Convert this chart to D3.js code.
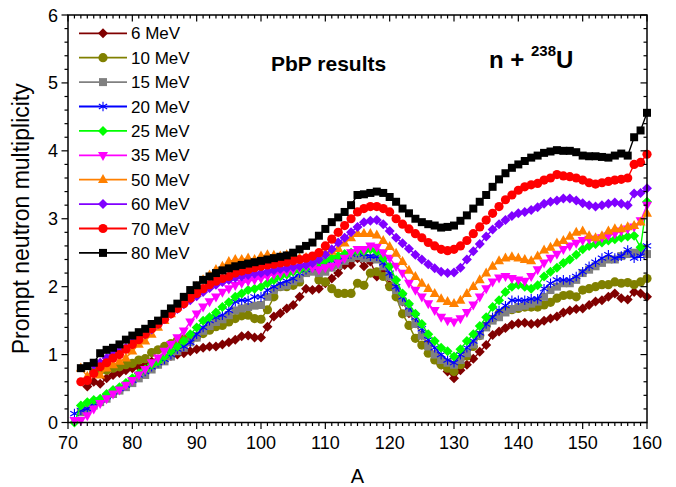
<!DOCTYPE html>
<html>
<head>
<meta charset="utf-8">
<script src="https://cdn.jsdelivr.net/npm/d3@7/dist/d3.min.js"></script>
<style>
  body { margin: 0; background: #fff; }
  svg { display: block; }
  text { font-family: Arial, "Liberation Sans", sans-serif; fill: #000; }
</style>
</head>
<body>
<svg id="chart" width="676" height="487"></svg>
<script>
// Prompt neutron multiplicity vs fragment mass number A, n + 238U, PbP model

const seriesNames = ["6 MeV", "10 MeV", "15 MeV", "20 MeV", "25 MeV", "35 MeV", "50 MeV", "60 MeV", "70 MeV", "80 MeV"];
// first mass number of each series
const firstA = [73, 74, 72, 71, 71, 71, 72, 74, 72, 72];

const nu6 = [0.53,0.60,0.57,0.65,0.70,0.73,0.77,0.80,0.82,0.85,0.90,0.92,0.95,0.98,1.00,1.02,1.05,1.08,1.10,1.12,1.12,1.15,1.18,1.22,1.27,1.28,1.25,1.25,
  1.41,1.56,1.61,1.68,1.73,1.85,1.97,1.95,1.97,2.05,2.12,2.20,2.32,2.32,2.42,2.30,2.37,2.15,2.25,2.02,1.97,1.78,1.61,1.46,1.29,1.14,1.00,0.85,0.75,0.65,
  0.77,0.85,0.94,1.04,1.14,1.29,1.34,1.39,1.44,1.46,1.47,1.45,1.46,1.50,1.53,1.56,1.62,1.65,1.67,1.68,1.73,1.78,1.80,1.85,1.90,1.83,1.81,1.92,1.90,1.85];

const nu10 = [0.75,0.77,0.77,0.80,0.82,0.85,0.87,0.92,0.94,1.03,1.07,1.12,1.16,1.21,1.23,1.21,1.26,1.31,1.36,1.41,1.43,1.48,1.53,1.57,1.58,1.53,1.52,
  1.66,1.85,2.00,2.00,2.02,2.07,2.24,2.27,2.10,2.07,1.97,1.90,1.90,1.90,2.05,2.02,2.20,2.22,2.15,2.00,1.85,1.60,1.43,1.24,1.14,1.02,0.92,0.85,0.80,0.75,
  0.85,0.98,1.12,1.28,1.42,1.52,1.60,1.64,1.66,1.68,1.70,1.70,1.70,1.73,1.77,1.83,1.87,1.88,1.85,1.95,1.97,2.00,2.03,2.03,2.07,2.05,2.06,2.03,2.07,2.12];

const nu15 = [0.15,0.20,0.25,0.30,0.35,0.42,0.47,0.52,0.58,0.65,0.70,0.78,0.85,0.90,0.97,1.05,1.10,1.18,1.25,1.35,1.42,1.48,1.52,1.58,1.65,1.68,1.70,1.72,1.73,
  1.85,1.95,2.00,2.02,2.08,2.12,2.20,2.22,2.20,2.22,2.28,2.32,2.38,2.42,2.45,2.42,2.42,2.40,2.30,2.15,1.95,1.78,1.62,1.45,1.28,1.12,1.00,0.92,0.88,0.85,
  0.92,1.02,1.15,1.28,1.40,1.50,1.55,1.62,1.67,1.70,1.72,1.75,1.78,1.85,1.95,2.00,2.05,2.05,2.10,2.20,2.25,2.30,2.35,2.40,2.40,2.45,2.48,2.50,2.52,2.48];

const nu20 = [0.13,0.18,0.20,0.28,0.33,0.38,0.45,0.50,0.55,0.62,0.70,0.75,0.82,0.88,0.93,1.00,1.08,1.12,1.18,1.30,1.40,1.50,1.55,1.58,1.65,1.78,1.80,1.80,1.85,1.85,
  1.95,2.00,2.05,2.08,2.12,2.20,2.25,2.28,2.30,2.32,2.38,2.38,2.45,2.48,2.50,2.48,2.45,2.45,2.35,2.20,2.00,1.85,1.70,1.55,1.38,1.22,1.10,1.00,0.92,0.88,
  1.00,1.10,1.20,1.32,1.45,1.55,1.65,1.72,1.80,1.80,1.80,1.82,1.82,1.97,2.05,2.10,2.10,2.10,2.15,2.22,2.30,2.36,2.42,2.47,2.42,2.45,2.54,2.42,2.45,2.60];

const nu25 = [0.00,0.25,0.30,0.33,0.35,0.42,0.48,0.52,0.58,0.65,0.72,0.78,0.85,0.90,0.97,1.05,1.12,1.20,1.30,1.40,1.50,1.55,1.62,1.70,1.77,1.85,1.90,1.95,1.97,2.00,
  2.05,2.10,2.15,2.18,2.22,2.25,2.28,2.30,2.35,2.38,2.42,2.45,2.48,2.50,2.52,2.52,2.55,2.52,2.42,2.30,2.10,1.90,1.75,1.60,1.45,1.30,1.20,1.10,1.05,0.97,
  1.08,1.20,1.30,1.42,1.55,1.70,1.80,1.92,2.00,2.03,2.00,1.97,2.02,2.15,2.22,2.28,2.35,2.40,2.47,2.55,2.60,2.63,2.65,2.68,2.70,2.72,2.74,2.75,2.58,3.25];

const nu35 = [0.03,0.03,0.10,0.20,0.28,0.35,0.42,0.48,0.55,0.62,0.70,0.78,0.88,0.95,1.05,1.15,1.25,1.35,1.48,1.60,1.70,1.78,1.85,1.92,1.97,2.02,2.05,2.08,2.10,2.12,
  2.15,2.18,2.20,2.22,2.25,2.28,2.30,2.28,2.25,2.28,2.30,2.35,2.42,2.50,2.55,2.55,2.60,2.58,2.50,2.42,2.30,2.20,2.05,1.95,1.85,1.75,1.65,1.55,1.50,1.48,
  1.53,1.62,1.73,1.85,1.97,2.07,2.13,2.15,2.12,2.10,2.08,2.15,2.25,2.35,2.42,2.48,2.55,2.60,2.64,2.68,2.70,2.70,2.72,2.75,2.78,2.82,2.85,2.88,2.97,3.20];

const nu50 = [0.80,0.68,0.72,0.70,0.80,0.85,0.90,0.95,1.05,1.15,1.20,1.30,1.40,1.50,1.60,1.70,1.80,1.90,2.00,2.10,2.17,2.25,2.30,2.37,2.40,2.40,2.42,2.40,2.45,
  2.47,2.46,2.45,2.47,2.45,2.42,2.43,2.42,2.45,2.50,2.52,2.56,2.64,2.72,2.78,2.78,2.78,2.76,2.68,2.59,2.49,2.37,2.24,2.15,2.05,1.97,1.90,1.82,1.78,1.75,
  1.80,1.90,2.00,2.10,2.20,2.30,2.38,2.42,2.44,2.42,2.40,2.38,2.45,2.54,2.58,2.64,2.68,2.74,2.80,2.82,2.75,2.72,2.75,2.82,2.85,2.85,2.88,2.90,2.95,3.08];

const nu60 = [0.85,0.88,0.95,1.00,1.05,1.10,1.18,1.25,1.30,1.37,1.45,1.52,1.60,1.67,1.74,1.80,1.86,1.92,1.98,2.03,2.07,2.10,2.13,2.15,2.17,2.19,2.20,
  2.22,2.24,2.26,2.27,2.29,2.30,2.32,2.35,2.40,2.47,2.55,2.65,2.72,2.80,2.88,2.95,2.97,2.98,2.92,2.82,2.72,2.64,2.56,2.47,2.40,2.33,2.27,2.22,2.20,2.21,
  2.28,2.40,2.52,2.63,2.74,2.84,2.92,2.98,3.04,3.08,3.10,3.13,3.17,3.22,3.25,3.27,3.30,3.30,3.27,3.23,3.20,3.18,3.20,3.22,3.24,3.22,3.20,3.37,3.38,3.45];

const nu70 = [0.60,0.62,0.72,0.82,0.88,0.95,1.00,1.08,1.15,1.22,1.30,1.38,1.45,1.52,1.60,1.68,1.75,1.83,1.90,1.97,2.03,2.08,2.12,2.15,2.20,2.23,2.25,2.28,2.30,
  2.32,2.33,2.35,2.36,2.38,2.40,2.42,2.45,2.50,2.60,2.70,2.80,2.90,3.00,3.10,3.15,3.18,3.18,3.15,3.10,3.00,2.92,2.85,2.78,2.72,2.65,2.60,2.55,2.53,2.55,
  2.60,2.68,2.78,2.88,2.98,3.08,3.18,3.28,3.35,3.42,3.47,3.50,3.52,3.57,3.60,3.65,3.63,3.62,3.60,3.57,3.53,3.51,3.53,3.55,3.57,3.58,3.60,3.80,3.83,3.95];

const nu80 = [0.80,0.83,0.88,1.02,1.07,1.10,1.15,1.22,1.28,1.33,1.38,1.45,1.50,1.60,1.68,1.75,1.85,1.95,2.02,2.10,2.15,2.20,2.24,2.27,2.30,2.32,2.34,2.36,2.38,
  2.40,2.42,2.44,2.46,2.50,2.55,2.60,2.65,2.75,2.85,2.95,3.02,3.10,3.20,3.35,3.36,3.38,3.40,3.38,3.32,3.25,3.15,3.08,3.00,2.95,2.92,2.90,2.87,2.88,2.90,
  2.97,3.05,3.15,3.25,3.35,3.47,3.58,3.67,3.75,3.80,3.85,3.90,3.93,3.97,3.99,4.01,4.00,4.00,3.98,3.93,3.92,3.92,3.91,3.90,3.93,3.96,3.93,4.20,4.30,4.56];

const seriesValues = [nu6, nu10, nu15, nu20, nu25, nu35, nu50, nu60, nu70, nu80];
const seriesColors = ["#800000", "#808000", "#808080", "#0000ff", "#00ff00", "#ff00ff", "#ff8000", "#8000ff", "#ff0000", "#000000"];
const seriesSymbols = ["diamond", "circle", "square", "star", "diamond", "triangleDown", "triangleUp", "diamond", "circle", "square"];

const xTicks = [70, 80, 90, 100, 110, 120, 130, 140, 150, 160];
const yTicks = [0, 1, 2, 3, 4, 5, 6];

const plot = { left: 68, right: 647, top: 15, bottom: 422.5 };

const svg = d3.select("#chart");
const x = d3.scaleLinear().domain([70, 160]).range([plot.left, plot.right]);
const y = d3.scaleLinear().domain([0, 6]).range([plot.bottom, plot.top]);

// marker shapes
function markerPath(kind) {
  switch (kind) {
    case "square": { const s = 8; return `M${-s/2},${-s/2}h${s}v${s}h${-s}Z`; }
    case "circle": { const r = 4.6; return `M${r},0A${r},${r} 0 1,1 ${-r},0A${r},${r} 0 1,1 ${r},0Z`; }
    case "diamond": { const r = 5; return `M0,${-r}L${r},0L0,${r}L${-r},0Z`; }
    case "triangleUp": { const w = 10, h = 9; return `M0,${-h*0.62}L${w/2},${h*0.38}L${-w/2},${h*0.38}Z`; }
    case "triangleDown": { const w = 10, h = 9; return `M0,${h*0.62}L${w/2},${-h*0.38}L${-w/2},${-h*0.38}Z`; }
    case "star": { const r = 4.8; const a = r * Math.cos(Math.PI / 6), b = r / 2;
      return `M0,${-r}V${r}M${-a},${-b}L${a},${b}M${-a},${b}L${a},${-b}`; }
  }
}

function drawMarker(g, kind, color) {
  const p = g.append("path").attr("d", markerPath(kind));
  if (kind === "star") p.attr("fill", "none").attr("stroke", color).attr("stroke-width", 1.1);
  else p.attr("fill", color).attr("stroke", "none");
}

// curves, in legend order (highest energy on top)
const line = d3.line().x(d => x(d[0])).y(d => y(d[1]));
const dataLayer = svg.append("g");
seriesValues.forEach((vals, i) => {
  const pts = vals.map((v, k) => [firstA[i] + k, v]);
  const g = dataLayer.append("g");
  g.append("path").datum(pts).attr("d", line)
    .attr("fill", "none").attr("stroke", seriesColors[i]).attr("stroke-width", 1.4);
  g.selectAll("g.pt").data(pts).join("g").attr("class", "pt")
    .attr("transform", d => `translate(${x(d[0])},${y(d[1])})`)
    .each(function () { drawMarker(d3.select(this), seriesSymbols[i], seriesColors[i]); });
});

// frame and ticks (all ticks point left / down, as on the bottom-left axes)
const axisColor = "#000";
svg.append("rect").attr("x", plot.left).attr("y", plot.top)
  .attr("width", plot.right - plot.left).attr("height", plot.bottom - plot.top)
  .attr("fill", "none").attr("stroke", axisColor).attr("stroke-width", 1.5);

const xMinor = d3.range(70, 161, 1).filter(v => v % 10 !== 0);
const yMinor = d3.range(0, 6.01, 0.2).filter(v => Math.abs(v - Math.round(v)) > 1e-6);
const tickG = svg.append("g").attr("stroke", axisColor).attr("stroke-width", 1.2);
// bottom (outward) and top (inward)
[[xTicks, 6.5], [xMinor, 3.5]].forEach(([vals, len]) => {
  vals.forEach(v => {
    tickG.append("line").attr("x1", x(v)).attr("x2", x(v)).attr("y1", plot.bottom).attr("y2", plot.bottom + len);
    tickG.append("line").attr("x1", x(v)).attr("x2", x(v)).attr("y1", plot.top).attr("y2", plot.top + len);
  });
});
// left (outward) and right (inward)
[[yTicks, 6.5], [yMinor, 3.5]].forEach(([vals, len]) => {
  vals.forEach(v => {
    tickG.append("line").attr("y1", y(v)).attr("y2", y(v)).attr("x1", plot.left).attr("x2", plot.left - len);
    tickG.append("line").attr("y1", y(v)).attr("y2", y(v)).attr("x1", plot.right).attr("x2", plot.right - len);
  });
});

// tick labels
svg.append("g").selectAll("text").data(xTicks).join("text")
  .attr("x", d => x(d)).attr("y", plot.bottom + 26).attr("text-anchor", "middle")
  .attr("font-size", 18).text(d => d);
svg.append("g").selectAll("text").data(yTicks).join("text")
  .attr("x", plot.left - 10).attr("y", d => y(d) + 6.5).attr("text-anchor", "end")
  .attr("font-size", 18).text(d => d);

// axis titles
svg.append("text").attr("x", (plot.left + plot.right) / 2).attr("y", 483)
  .attr("text-anchor", "middle").attr("font-size", 20).text("A");
svg.append("text").attr("transform", `translate(29,${(plot.top + plot.bottom) / 2}) rotate(-90)`)
  .attr("text-anchor", "middle").attr("font-size", 23).text("Prompt neutron multiplicity");

// legend
const legend = svg.append("g");
seriesNames.forEach((name, i) => {
  const ly = 33.3 + i * 24.4;
  const g = legend.append("g");
  g.append("line").attr("x1", 79).attr("x2", 127).attr("y1", ly).attr("y2", ly)
    .attr("stroke", seriesColors[i]).attr("stroke-width", 1.8);
  const m = g.append("g").attr("transform", `translate(103,${ly})`);
  drawMarker(m, seriesSymbols[i], seriesColors[i]);
  g.append("text").attr("x", 131).attr("y", ly + 6).attr("font-size", 17).text(name);
});

// annotations
svg.append("text").attr("x", 271).attr("y", 71).attr("font-size", 21).attr("font-weight", "bold").text("PbP results");
const title = svg.append("text").attr("x", 489).attr("y", 68).attr("font-size", 24).attr("font-weight", "bold");
title.append("tspan").text("n + ");
title.append("tspan").attr("font-size", 15).attr("dy", -12).text("238");
title.append("tspan").attr("dy", 12).text("U");
</script>
</body>
</html>
